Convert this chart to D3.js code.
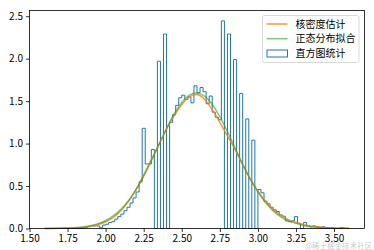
<!DOCTYPE html>
<html>
<head>
<meta charset="utf-8">
<script src="https://cdn.jsdelivr.net/npm/d3@7"></script>
<style>
  html, body { margin: 0; padding: 0; background: #fff; }
  svg { display: block; }
  text { font-family: "Noto Sans CJK SC", "DejaVu Sans", sans-serif; }
</style>
</head>
<body>
<script>
// ---------------- data ----------------
const histStart = 1.6;
const histBinWidth = 0.02;
const histDensity = [
  0, 0, 0, 0, 0, 0, 0, 0, 0, 0,
  0, 0, 0, 0.01, 0.02, 0.03, 0.03, 0.03, 0.01, 0.04,
  0.05, 0.07, 0.08, 0.11, 0.14, 0.17, 0.21, 0.25, 0.30, 0.36,
  0.43, 0.55, 1.18, 0.76, 0.76, 0.93, 0, 1.97, 0, 2.29,
  0, 1.25, 1.34, 1.45, 1.54, 1.57, 1.52, 1.55, 1.48, 1.68,
  1.60, 1.66, 1.61, 1.47, 1.56, 1.37, 1.31, 1.28, 2.445, 0,
  2.29, 0, 1.99, 0, 1.59, 0, 1.29, 0, 1.04, 0,
  0.46, 0.42, 0.32, 0.29, 0.25, 0.22, 0.20, 0.16, 0.145, 0.09,
  0.08, 0.09, 0.14, 0.06, 0.0, 0.07, 0.03, 0.02, 0.03, 0.02,
  0.01, 0.02, 0.01, 0, 0.01, 0, 0, 0.01, 0, 0
];

const curveX = [1.60, 1.65, 1.70, 1.75, 1.80, 1.85, 1.90, 1.95, 2.00, 2.05,
                2.10, 2.15, 2.20, 2.25, 2.30, 2.35, 2.40, 2.45, 2.50, 2.55,
                2.60, 2.65, 2.70, 2.75, 2.80, 2.85, 2.90, 2.95, 3.00, 3.05,
                3.10, 3.15, 3.20, 3.25, 3.30, 3.35, 3.40, 3.45, 3.50, 3.55, 3.60];

const kdeY = [0.001, 0.002, 0.003, 0.005, 0.009, 0.016, 0.028, 0.048, 0.08, 0.13,
              0.21, 0.32, 0.46, 0.63, 0.81, 0.99, 1.17, 1.33, 1.46, 1.55,
              1.58, 1.52, 1.40, 1.25, 1.09, 0.93, 0.75, 0.58, 0.44, 0.32,
              0.225, 0.155, 0.105, 0.07, 0.045, 0.028, 0.017, 0.01, 0.006, 0.003, 0.002];

const normalY = [0.001, 0.0013, 0.0026, 0.0053, 0.010, 0.019, 0.034, 0.057, 0.094, 0.148,
                 0.225, 0.327, 0.458, 0.616, 0.796, 0.987, 1.178, 1.349, 1.485, 1.570,
                 1.596, 1.558, 1.461, 1.317, 1.141, 0.949, 0.758, 0.582, 0.430, 0.305,
                 0.207, 0.136, 0.090, 0.060, 0.036, 0.021, 0.012, 0.007, 0.004, 0.002, 0.001];

const xTicks = [1.50, 1.75, 2.00, 2.25, 2.50, 2.75, 3.00, 3.25, 3.50];
const yTicks = [0.0, 0.5, 1.0, 1.5, 2.0, 2.5];
const legendLabels = ["核密度估计", "正态分布拟合", "直方图统计"];
const watermark = "@稀土掘金技术社区";

// ---------------- layout ----------------
const W = 374, H = 250;
const plot = { left: 29.5, right: 364.5, top: 10.5, bottom: 228.5 };
const colors = { hist: "#1f77b4", kde: "#ff7f0e", normal: "#2ca02c" };

const svg = d3.select("body").append("svg")
  .attr("width", W).attr("height", H);

const xMin = histStart, xMax = histStart + histBinWidth * histDensity.length;
const xPad = (xMax - xMin) * 0.05;
const x = d3.scaleLinear().domain([xMin - xPad, xMax + xPad]).range([plot.left, plot.right]);
const y = d3.scaleLinear().domain([0, d3.max(histDensity) * 1.05]).range([plot.bottom, plot.top]);

// histogram step path
const stepPts = [[histStart, 0]];
histDensity.forEach((v, i) => {
  const a = histStart + i * histBinWidth, b = a + histBinWidth;
  stepPts.push([a, v], [b, v]);
});
stepPts.push([xMax, 0]);

const g = svg.append("g");
g.append("path")
  .datum(stepPts)
  .attr("fill", "none")
  .attr("stroke", colors.hist)
  .attr("stroke-width", 1)
  .attr("d", d3.line().x(d => x(d[0])).y(d => y(d[1])));

const curveLine = d3.line().x(d => x(d[0])).y(d => y(d[1])).curve(d3.curveCatmullRom);
g.append("path")
  .datum(curveX.map((v, i) => [v, kdeY[i]]))
  .attr("fill", "none")
  .attr("stroke", colors.kde)
  .attr("stroke-opacity", 0.85)
  .attr("stroke-width", 1.5)
  .attr("d", curveLine);
g.append("path")
  .datum(curveX.map((v, i) => [v, normalY[i]]))
  .attr("fill", "none")
  .attr("stroke", colors.normal)
  .attr("stroke-opacity", 0.6)
  .attr("stroke-width", 1.5)
  .attr("d", curveLine);

// axes
const xAxis = d3.axisBottom(x).tickValues(xTicks).tickFormat(d3.format(".2f")).tickSize(3.5).tickPadding(2.5);
const yAxis = d3.axisLeft(y).tickValues(yTicks).tickFormat(d3.format(".1f")).tickSize(3.5).tickPadding(3);

const gx = svg.append("g").attr("transform", `translate(0,${plot.bottom})`).call(xAxis);
const gy = svg.append("g").attr("transform", `translate(${plot.left},0)`).call(yAxis);
[gx, gy].forEach(a => {
  a.select(".domain").remove();
  a.selectAll(".tick line").attr("stroke", "#000").attr("stroke-width", 0.8);
  a.selectAll(".tick text").attr("fill", "#000").style("font-size", "10px")
    .style("font-family", "'Noto Sans CJK SC', sans-serif");
});

// frame
svg.append("rect")
  .attr("x", plot.left).attr("y", plot.top)
  .attr("width", plot.right - plot.left).attr("height", plot.bottom - plot.top)
  .attr("fill", "none").attr("stroke", "#000").attr("stroke-width", 0.8);

// legend
const lg = svg.append("g").attr("transform", "translate(262.5,15.5)");
lg.append("rect")
  .attr("width", 96.5).attr("height", 47)
  .attr("rx", 2).attr("fill", "#fff").attr("fill-opacity", 0.8)
  .attr("stroke", "#d0d0d0").attr("stroke-width", 0.8);
const rowY = [8.5, 23.2, 38];
lg.append("line").attr("x1", 4).attr("x2", 25).attr("y1", rowY[0]).attr("y2", rowY[0])
  .attr("stroke", colors.kde).attr("stroke-opacity", 0.85).attr("stroke-width", 1.5);
lg.append("line").attr("x1", 4).attr("x2", 25).attr("y1", rowY[1]).attr("y2", rowY[1])
  .attr("stroke", colors.normal).attr("stroke-opacity", 0.6).attr("stroke-width", 1.5);
lg.append("rect").attr("x", 4.5).attr("y", rowY[2] - 3.5).attr("width", 20.5).attr("height", 7)
  .attr("fill", "none").attr("stroke", colors.hist).attr("stroke-width", 1);
legendLabels.forEach((t, i) => {
  lg.append("text").attr("x", 33).attr("y", rowY[i]).attr("dy", "0.36em")
    .style("font-size", "10px").attr("fill", "#000").text(t);
});

// watermark (bottom-right corner, as in the reference)
svg.append("text")
  .attr("x", 372).attr("y", 248.5)
  .attr("text-anchor", "end")
  .style("font-size", "7.5px")
  .attr("fill", "#b0b0b0").attr("fill-opacity", 0.7)
  .text(watermark);
</script>
</body>
</html>
